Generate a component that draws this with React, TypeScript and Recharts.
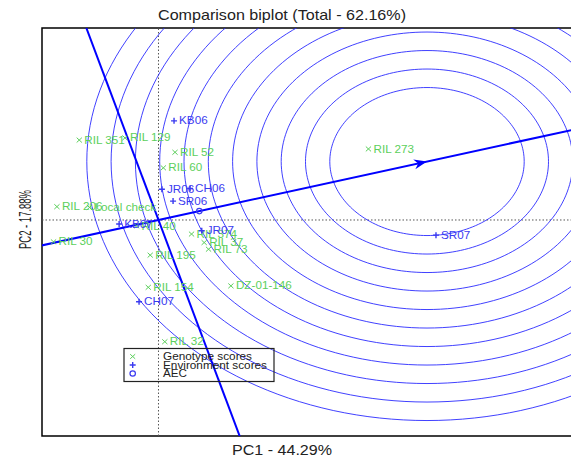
import React from "react";
import { ScatterChart, Scatter, XAxis, YAxis, ReferenceLine, ReferenceArea } from "recharts";

// genotype scores (PC1, PC2)
const genotypeNames = [
  "RIL 351", "RIL 129", "RIL 52", "RIL 60", "RIL 206", "Local check", "RIL 40", "RIL 30",
  "RIL 374", "RIL 37", "RIL 73", "RIL 195", "RIL 154", "DZ-01-146", "RIL 32", "RIL 273",
];
const genotypePC1 = [-1.63, -0.69, 0.34, 0.1, -2.09, -1.42, -0.45, -2.16, 0.68, 0.94, 1.03, -0.17, -0.21, 1.49, 0.13, 4.32];
const genotypePC2 = [2.16, 2.22, 1.83, 1.41, 0.36, 0.34, -0.16, -0.59, -0.38, -0.61, -0.79, -0.95, -1.82, -1.78, -3.29, 1.92];

// environment scores (PC1, PC2)
const environmentNames = ["KB06", "JR06", "CH06", "SR06", "KB07", "JR07", "CH07", "SR07"];
const environmentPC1 = [0.32, 0.07, 0.65, 0.3, -0.81, 0.89, -0.4, 5.71];
const environmentPC2 = [2.68, 0.83, 0.85, 0.51, -0.11, -0.29, -2.21, -0.41];

// average environment (AEC) and ideal point at the centre of the rings
const aecPoint = { x: 0.84, y: 0.24 };
const idealPoint = { x: 5.525, y: 1.58 };
const ringRadii = [2, 2.5, 3, 3.5, 4, 4.5, 5, 5.5, 6, 6.5, 7];

const X_DOMAIN: [number, number] = [-2.397, 8.879];
const Y_DOMAIN: [number, number] = [-5.838, 5.189];

const CHART_W = 620;
const CHART_H = 459;
const MARGIN = { top: 28, right: 30, bottom: 23, left: 42 };
const FONT = "'Liberation Sans', Arial, sans-serif";
const GREEN = "#5ccf5c";
const BLUE = "#3a3af0";

const genotypes = genotypeNames.map((name, i) => ({ name, x: genotypePC1[i], y: genotypePC2[i] }));
const environments = environmentNames.map((name, i) => ({ name, x: environmentPC1[i], y: environmentPC2[i] }));

// circle outlines around the ideal point
const rings = ringRadii.map((r) =>
  Array.from({ length: 181 }, (_, k) => {
    const a = (k / 180) * Math.PI * 2;
    return { x: idealPoint.x + r * Math.cos(a), y: idealPoint.y + r * Math.sin(a) };
  })
);

const aecLine = [
  { x: -idealPoint.x, y: -idealPoint.y },
  { x: idealPoint.x * 2, y: idealPoint.y * 2 },
];
const perpLine = [
  { x: idealPoint.y * 1.3, y: -idealPoint.x * 1.3 },
  { x: -idealPoint.y * 1.3, y: idealPoint.x * 1.3 },
];

// pixel angle of the AEC arrow
const sx = (CHART_W - MARGIN.left - MARGIN.right) / (X_DOMAIN[1] - X_DOMAIN[0]);
const sy = (CHART_H - MARGIN.top - MARGIN.bottom) / (Y_DOMAIN[1] - Y_DOMAIN[0]);
const arrowAngle = (Math.atan2(-idealPoint.y * sy, idealPoint.x * sx) * 180) / Math.PI;

const noShape = () => <g />;

const Label = ({ x, y, text, color }: any) => (
  <text
    transform={`translate(${x},${y + 3.6}) scale(1.17,1)`}
    fontSize={10}
    fontFamily={FONT}
    fill={color}
  >
    {text}
  </text>
);

const GenotypeMark = (props: any) => {
  const { cx, cy, payload } = props;
  return (
    <g>
      <path d={`M${cx - 2.6},${cy - 2.4}L${cx + 2.6},${cy + 2.4}M${cx - 2.6},${cy + 2.4}L${cx + 2.6},${cy - 2.4}`} stroke={GREEN} strokeWidth={1} />
      <Label x={cx + 5} y={cy} text={payload.name} color={GREEN} />
    </g>
  );
};

const EnvironmentMark = (props: any) => {
  const { cx, cy, payload } = props;
  return (
    <g>
      <path d={`M${cx - 3},${cy}L${cx + 3},${cy}M${cx},${cy - 3}L${cx},${cy + 3}`} stroke={BLUE} strokeWidth={1.4} />
      <Label x={cx + 5} y={cy} text={payload.name} color={BLUE} />
    </g>
  );
};

const AecMark = (props: any) => <circle cx={props.cx} cy={props.cy} r={2.7} fill="none" stroke={BLUE} strokeWidth={1.2} />;

const ArrowHead = (props: any) => (
  <path
    transform={`translate(${props.cx},${props.cy}) rotate(${arrowAngle})`}
    d="M0,0L-13,-5L-9,0L-13,5Z"
    fill="#0000ff"
  />
);

export default function App() {
  return (
    <div style={{ position: "absolute", left: 0, top: 0, width: 571, height: 459, overflow: "hidden", background: "#fff" }}>
      <ScatterChart width={CHART_W} height={CHART_H} margin={MARGIN}>
        <XAxis type="number" dataKey="x" domain={X_DOMAIN} allowDataOverflow hide />
        <YAxis type="number" dataKey="y" domain={Y_DOMAIN} allowDataOverflow hide />
        <ReferenceLine x={0} stroke="#555" strokeDasharray="1.5 2" strokeWidth={1} />
        <ReferenceLine y={0} stroke="#555" strokeDasharray="1.5 2" strokeWidth={1} />
        {rings.map((ring, i) => (
          <Scatter
            key={"ring" + i}
            data={ring}
            line={{ stroke: "#2020ff", strokeWidth: 1, strokeOpacity: 0.85 }}
            shape={noShape}
            isAnimationActive={false}
          />
        ))}
        <Scatter data={aecLine} line={{ stroke: "#0000ff", strokeWidth: 2 }} shape={noShape} isAnimationActive={false} />
        <Scatter data={perpLine} line={{ stroke: "#0000ff", strokeWidth: 2 }} shape={noShape} isAnimationActive={false} />
        <Scatter data={[idealPoint]} shape={ArrowHead} isAnimationActive={false} />
        <Scatter data={genotypes} shape={GenotypeMark} isAnimationActive={false} />
        <Scatter data={environments} shape={EnvironmentMark} isAnimationActive={false} />
        <Scatter data={[aecPoint]} shape={AecMark} isAnimationActive={false} />
        <ReferenceArea
          x1={X_DOMAIN[0]}
          x2={X_DOMAIN[1]}
          y1={Y_DOMAIN[0]}
          y2={Y_DOMAIN[1]}
          fill="none"
          stroke="#000"
          strokeWidth={1.5}
          ifOverflow="visible"
        />
      </ScatterChart>
      <svg width={571} height={459} style={{ position: "absolute", left: 0, top: 0, pointerEvents: "none" }}>
        <text x={158} y={20} fontSize={14.5} fontFamily={FONT} fill="#222" textLength={248} lengthAdjust="spacingAndGlyphs">
          Comparison biplot (Total - 62.16%)
        </text>
        <text x={232} y={455} fontSize={14.5} fontFamily={FONT} fill="#222" textLength={100} lengthAdjust="spacingAndGlyphs">
          PC1 - 44.29%
        </text>
        <text
          transform="translate(31,249) rotate(-90)"
          fontSize={16}
          fontFamily={FONT}
          fill="#222"
          textLength={59}
          lengthAdjust="spacingAndGlyphs"
        >
          PC2 - 17.88%
        </text>
        <rect x={124} y={348.5} width={150} height={33} fill="none" stroke="#222" strokeWidth={1.2} />
        <path d="M130.2,354.2L135.2,358.8M130.2,358.8L135.2,354.2" stroke={GREEN} strokeWidth={1} />
        <path d="M129.7,365L135.7,365M132.7,362L132.7,368" stroke={BLUE} strokeWidth={1.4} />
        <circle cx={132.7} cy={373.5} r={2.7} fill="none" stroke={BLUE} strokeWidth={1.2} />
        <g fontSize={10} fontFamily={FONT} fill="#222">
          <text x={163} y={360} textLength={89} lengthAdjust="spacingAndGlyphs">Genotype scores</text>
          <text x={163} y={368.5} textLength={104} lengthAdjust="spacingAndGlyphs">Environment scores</text>
          <text x={163} y={377} textLength={24} lengthAdjust="spacingAndGlyphs">AEC</text>
        </g>
      </svg>
    </div>
  );
}
